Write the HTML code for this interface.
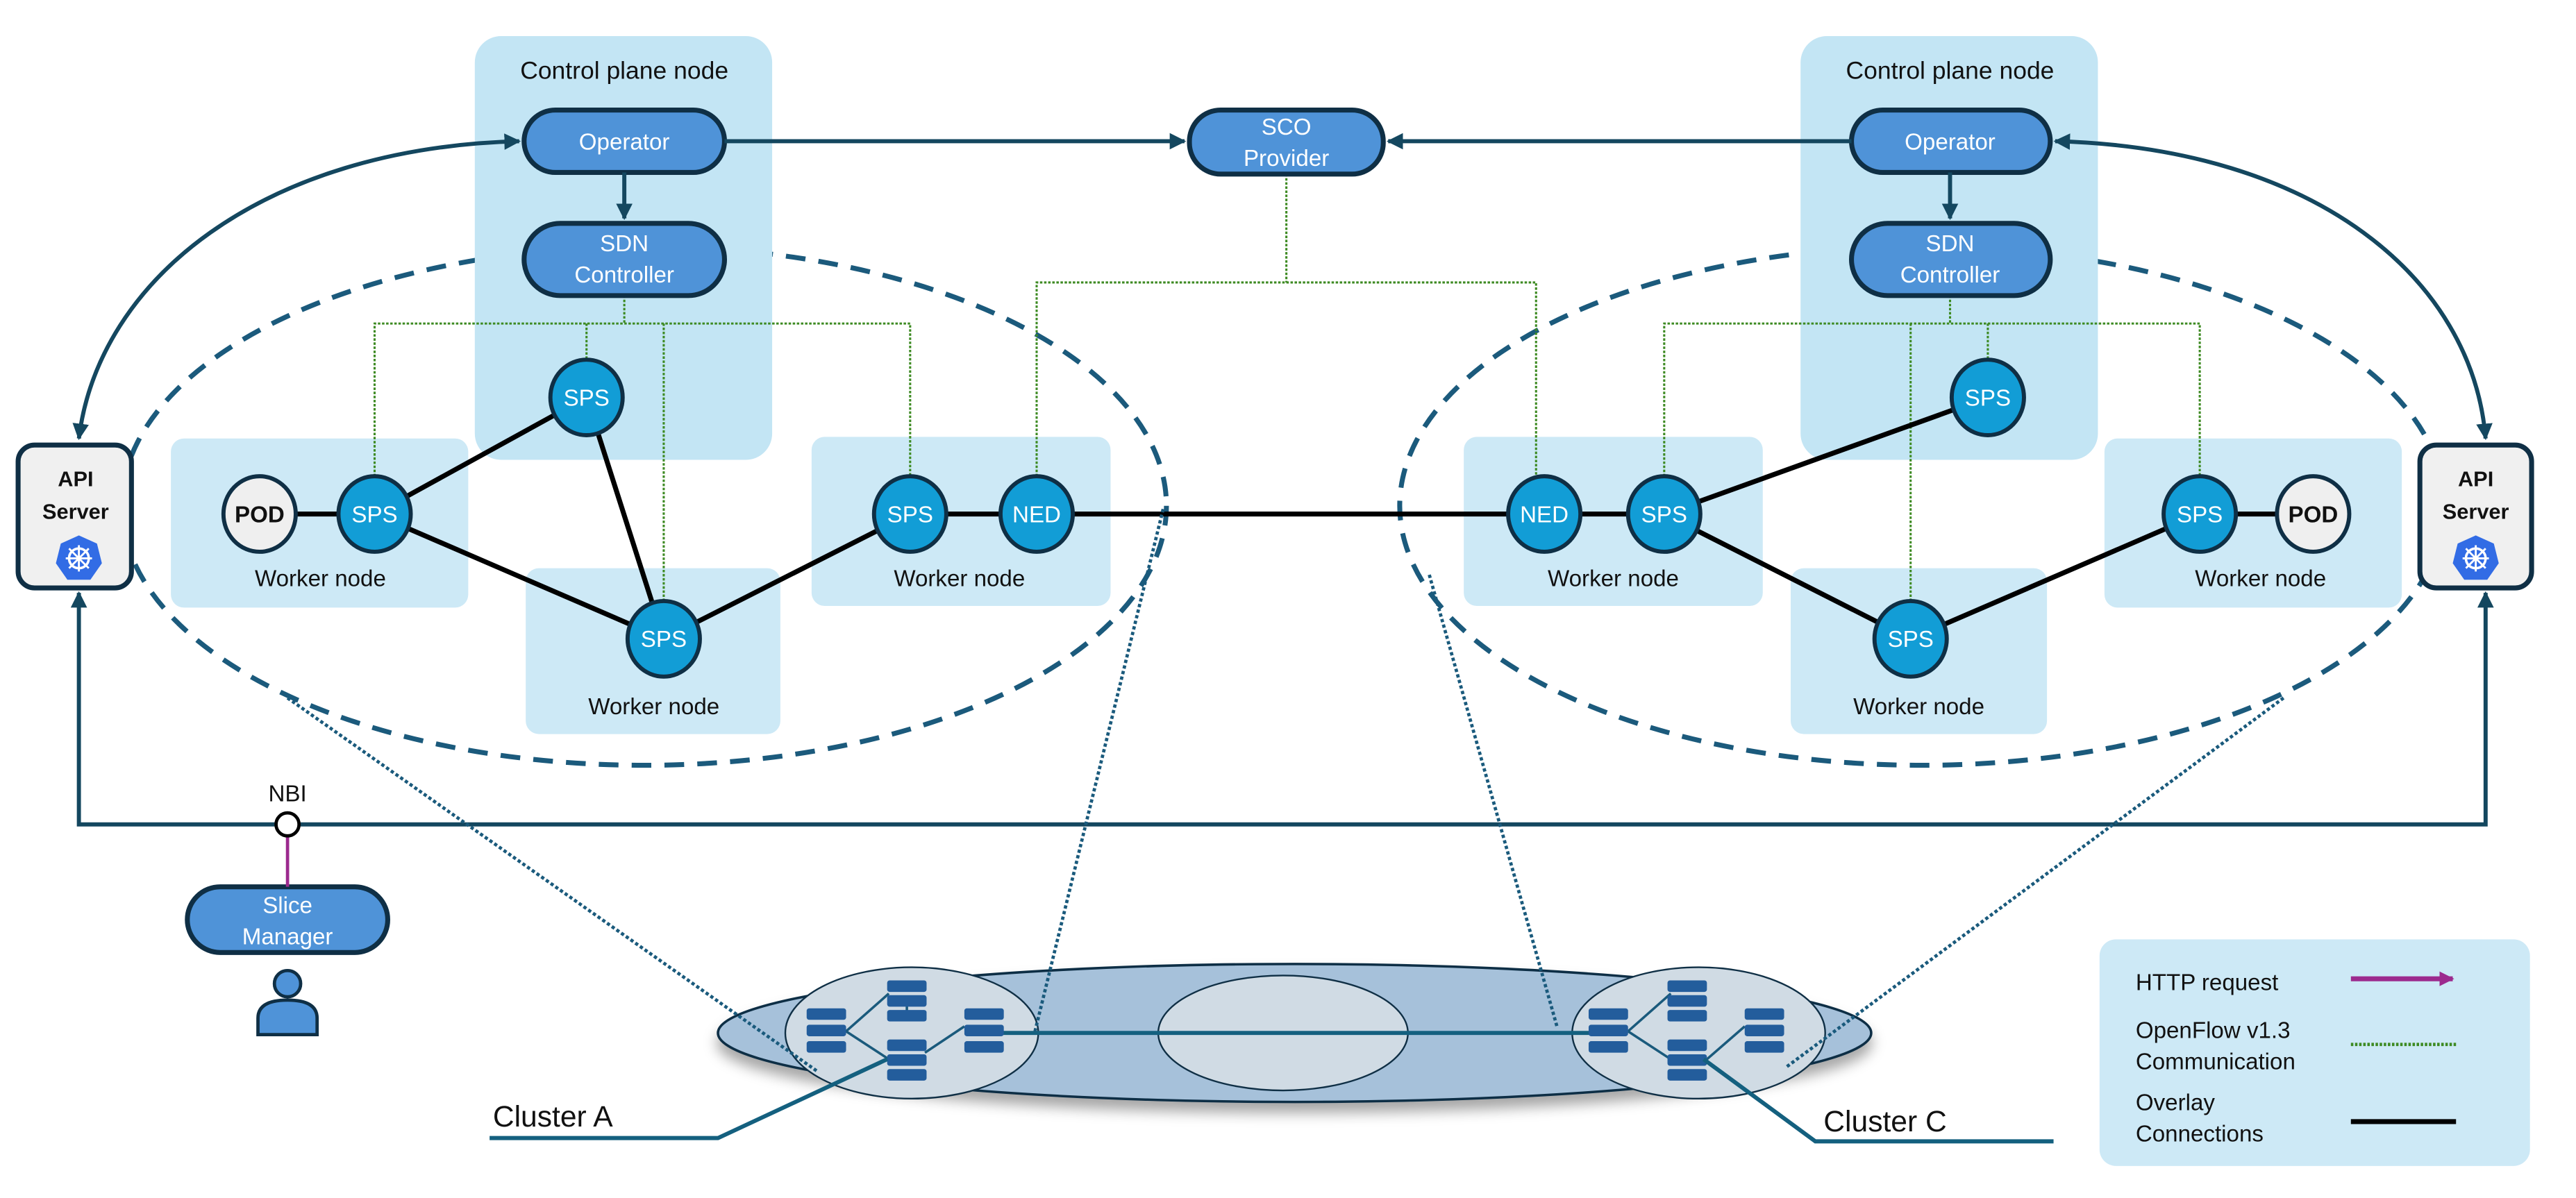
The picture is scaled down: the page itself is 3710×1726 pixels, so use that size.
<!DOCTYPE html>
<html><head><meta charset="utf-8"><style>
html,body{margin:0;padding:0;background:#fff;}
svg{display:block;}
text{font-family:"Liberation Sans",sans-serif;}
</style></head><body>
<svg width="3710" height="1726" viewBox="0 0 1568 729.5" xmlns="http://www.w3.org/2000/svg">
<defs>
<marker id="ah" viewBox="0 0 10 10" refX="9" refY="5" markerWidth="4" markerHeight="4" orient="auto-start-reverse"><path d="M0,0 L10,5 L0,10 z" fill="#14475f"/></marker>
<marker id="am" viewBox="0 0 10 10" refX="9" refY="5" markerWidth="3" markerHeight="3" orient="auto"><path d="M0,0 L10,5 L0,10 z" fill="#9c2a8e"/></marker>
<filter id="sh" x="-10%" y="-10%" width="120%" height="140%"><feDropShadow dx="0" dy="6" stdDeviation="4" flood-color="#000" flood-opacity="0.35"/></filter>
</defs>

<!-- dashed ellipses -->
<ellipse cx="392" cy="308" rx="318" ry="158" fill="none" stroke="#1b5a7c" stroke-width="3" stroke-dasharray="12 8"/>
<ellipse cx="1170" cy="308" rx="318" ry="158" fill="none" stroke="#1b5a7c" stroke-width="3" stroke-dasharray="12 8"/>

<!-- control plane boxes -->
<rect x="289" y="22" width="181" height="258" rx="16" fill="#c3e5f4"/>
<rect x="1096" y="22" width="181" height="258" rx="16" fill="#c3e5f4"/>
<text x="380" y="48" font-size="15" text-anchor="middle" fill="#111">Control plane node</text>
<text x="1187" y="48" font-size="15" text-anchor="middle" fill="#111">Control plane node</text>

<!-- worker nodes -->
<g fill="#cde9f6">
<rect x="104" y="267" width="181" height="103" rx="8"/>
<rect x="320" y="346" width="155" height="101" rx="8"/>
<rect x="494" y="266" width="182" height="103" rx="8"/>
<rect x="891" y="266" width="182" height="103" rx="8"/>
<rect x="1090" y="346" width="156" height="101" rx="8"/>
<rect x="1281" y="267" width="181" height="103" rx="8"/>
</g>
<g font-size="14" text-anchor="middle" fill="#111">
<text x="195" y="357">Worker node</text>
<text x="398" y="435">Worker node</text>
<text x="584" y="357">Worker node</text>
<text x="982" y="357">Worker node</text>
<text x="1168" y="435">Worker node</text>
<text x="1376" y="357">Worker node</text>
</g>

<!-- green dotted -->
<g fill="none" stroke="#3d8a22" stroke-width="1.3" stroke-dasharray="1.5 1">
<path d="M380,180 V197 M228,290 V197 H554 V290 M357,197 V219 M404,197 V366"/>
<path d="M783,106 V172 M631,290 V172 H935 V290"/>
<path d="M1187,180 V197 M1013,290 V197 H1339 V290 M1210,197 V219 M1163,197 V366"/>
</g>

<!-- black overlay lines -->
<g stroke="#000" stroke-width="3" fill="none">
<path d="M158,313 H228 M228,313 L357,242 M228,313 L404,389 M357,242 L404,389 M404,389 L554,313 M554,313 H631 M631,313 H940 M940,313 H1013 M1013,313 L1210,242 M1013,313 L1163,389 M1163,389 L1339,313 M1339,313 H1408"/>
</g>

<!-- circles -->
<g stroke="#0f2f45" stroke-width="2.5">
<ellipse cx="158" cy="313" rx="22" ry="23" fill="#efefef"/>
<ellipse cx="1408" cy="313" rx="22" ry="23" fill="#efefef"/>
<g fill="#129dd6">
<ellipse cx="228" cy="313" rx="22" ry="23"/>
<ellipse cx="357" cy="242" rx="22" ry="23"/>
<ellipse cx="404" cy="389" rx="22" ry="23"/>
<ellipse cx="554" cy="313" rx="22" ry="23"/>
<ellipse cx="631" cy="313" rx="22" ry="23"/>
<ellipse cx="940" cy="313" rx="22" ry="23"/>
<ellipse cx="1013" cy="313" rx="22" ry="23"/>
<ellipse cx="1210" cy="242" rx="22" ry="23"/>
<ellipse cx="1163" cy="389" rx="22" ry="23"/>
<ellipse cx="1339" cy="313" rx="22" ry="23"/>
</g></g>
<g font-size="14" text-anchor="middle" fill="#fff">
<text x="228" y="318">SPS</text><text x="357" y="247">SPS</text><text x="404" y="394">SPS</text>
<text x="554" y="318">SPS</text><text x="631" y="318">NED</text><text x="940" y="318">NED</text>
<text x="1013" y="318">SPS</text><text x="1210" y="247">SPS</text><text x="1163" y="394">SPS</text>
<text x="1339" y="318">SPS</text>
</g>
<g font-size="14" text-anchor="middle" fill="#111" font-weight="bold">
<text x="158" y="318">POD</text><text x="1408" y="318">POD</text>
</g>

<!-- pills -->
<g fill="#4f93d8" stroke="#0f2f45" stroke-width="3">
<rect x="319" y="67" width="122" height="38" rx="19"/>
<rect x="319" y="136" width="122" height="44" rx="22"/>
<rect x="1127" y="67" width="121" height="38" rx="19"/>
<rect x="1127" y="136" width="121" height="44" rx="22"/>
<rect x="724" y="67" width="118" height="39" rx="19"/>
<rect x="114" y="540" width="122" height="40" rx="20"/>
</g>
<g font-size="14" text-anchor="middle" fill="#fff">
<text x="380" y="91">Operator</text>
<text x="380" y="153">SDN</text><text x="380" y="172">Controller</text>
<text x="1187" y="91">Operator</text>
<text x="1187" y="153">SDN</text><text x="1187" y="172">Controller</text>
<text x="783" y="82">SCO</text><text x="783" y="101">Provider</text>
<text x="175" y="556">Slice</text><text x="175" y="575">Manager</text>
</g>

<!-- arrows -->
<g stroke="#14475f" stroke-width="2.5" fill="none">
<path d="M380,105 V133" marker-end="url(#ah)"/>
<path d="M1187,105 V133" marker-end="url(#ah)"/>
<path d="M441,86 H721" marker-end="url(#ah)"/>
<path d="M1127,86 H845" marker-end="url(#ah)"/>
<path d="M316,86 C160,90 60,170 48,267" marker-start="url(#ah)" marker-end="url(#ah)"/>
<path d="M1251,86 C1410,90 1505,170 1513,267" marker-start="url(#ah)" marker-end="url(#ah)"/>
<path d="M48,361 V502 H1513 V361" marker-start="url(#ah)" marker-end="url(#ah)"/>
</g>

<!-- API servers -->
<g stroke="#0f2f45" stroke-width="3" fill="#f0f0f0">
<rect x="11" y="271" width="69" height="87" rx="10"/>
<rect x="1473" y="271" width="68" height="87" rx="10"/>
</g>
<g font-size="13" font-weight="bold" text-anchor="middle" fill="#111">
<text x="46" y="296">API</text><text x="46" y="316">Server</text>
<text x="1507" y="296">API</text><text x="1507" y="316">Server</text>
</g>
<g>
<polygon points="48,326 59,331 62,343 55,353 41,353 34,343 37,331" fill="#326ce5"/>
<circle cx="48" cy="340" r="6" fill="none" stroke="#fff" stroke-width="1.5"/>
<path d="M48,332 V348 M40,340 H56 M42,334 L54,346 M54,334 L42,346" stroke="#fff" stroke-width="1.2"/>
<polygon points="1507,326 1518,331 1521,343 1514,353 1500,353 1493,343 1496,331" fill="#326ce5"/>
<circle cx="1507" cy="340" r="6" fill="none" stroke="#fff" stroke-width="1.5"/>
<path d="M1507,332 V348 M1499,340 H1515 M1501,334 L1513,346 M1513,334 L1501,346" stroke="#fff" stroke-width="1.2"/>
</g>

<!-- NBI -->
<path d="M175,509 V540" stroke="#9c2a8e" stroke-width="2"/>
<circle cx="175" cy="502" r="7" fill="#fff" stroke="#000" stroke-width="2"/>
<text x="175" y="488" font-size="14" text-anchor="middle" fill="#111">NBI</text>
<!-- person -->
<circle cx="175" cy="599" r="8" fill="#4f93d8" stroke="#0f2f45" stroke-width="2"/>
<path d="M157,630 V620 Q157,609 175,609 Q193,609 193,620 V630 Z" fill="#4f93d8" stroke="#0f2f45" stroke-width="2"/>

<!-- cluster -->
<g filter="url(#sh)">
<ellipse cx="788" cy="629" rx="351" ry="42" fill="#a6c1da" stroke="#0f2f45" stroke-width="1.5"/>
</g>
<ellipse cx="555" cy="629" rx="77" ry="40" fill="#d0dbe4" stroke="#0f2f45" stroke-width="1"/>
<ellipse cx="781" cy="629" rx="76" ry="35" fill="#d0dbe4" stroke="#0f2f45" stroke-width="1"/>
<ellipse cx="1034" cy="629" rx="77" ry="40" fill="#d0dbe4" stroke="#0f2f45" stroke-width="1"/>
<g stroke="#1a5a7c" stroke-width="1.5" fill="none">
<path d="M515,628 L541,605 M515,628 L541,645 M552,609 V620 M563,641 L587,625"/>
<path d="M991,628 L1017,605 M991,628 L1017,645 M1039,645 L1062,625"/>
</g>
<path d="M605,629 H968" stroke="#14607f" stroke-width="2.5"/>
<g fill="#235d9c">
<rect x="491" y="614" width="24" height="7" rx="1.5"/><rect x="491" y="624" width="24" height="7" rx="1.5"/><rect x="491" y="634" width="24" height="7" rx="1.5"/>
<rect x="540" y="597" width="24" height="7" rx="1.5"/><rect x="540" y="606" width="24" height="7" rx="1.5"/><rect x="540" y="615" width="24" height="7" rx="1.5"/>
<rect x="540" y="633" width="24" height="7" rx="1.5"/><rect x="540" y="642" width="24" height="7" rx="1.5"/><rect x="540" y="651" width="24" height="7" rx="1.5"/>
<rect x="587" y="614" width="24" height="7" rx="1.5"/><rect x="587" y="624" width="24" height="7" rx="1.5"/><rect x="587" y="634" width="24" height="7" rx="1.5"/>
<rect x="967" y="614" width="24" height="7" rx="1.5"/><rect x="967" y="624" width="24" height="7" rx="1.5"/><rect x="967" y="634" width="24" height="7" rx="1.5"/>
<rect x="1015" y="597" width="24" height="7" rx="1.5"/><rect x="1015" y="606" width="24" height="7" rx="1.5"/><rect x="1015" y="615" width="24" height="7" rx="1.5"/>
<rect x="1015" y="633" width="24" height="7" rx="1.5"/><rect x="1015" y="642" width="24" height="7" rx="1.5"/><rect x="1015" y="651" width="24" height="7" rx="1.5"/>
<rect x="1062" y="614" width="24" height="7" rx="1.5"/><rect x="1062" y="624" width="24" height="7" rx="1.5"/><rect x="1062" y="634" width="24" height="7" rx="1.5"/>
</g>

<!-- dotted projection lines -->
<g stroke="#1a5a7c" stroke-width="2" stroke-dasharray="2 1.5" fill="none">
<path d="M175,425 L497,652"/>
<path d="M708,310 L630,628"/>
<path d="M870,350 L948,626"/>
<path d="M1390,425 L1087,650"/>
</g>

<!-- cluster labels -->
<g stroke="#14607f" stroke-width="2.5" fill="none">
<path d="M298,693 H437 L540,645"/>
<path d="M1037,645 L1105,695 H1250"/>
</g>
<text x="300" y="686" font-size="18" fill="#111">Cluster A</text>
<text x="1110" y="689" font-size="18" fill="#111">Cluster C</text>

<!-- legend -->
<rect x="1278" y="572" width="262" height="138" rx="10" fill="#cde9f6"/>
<g font-size="14" fill="#111">
<text x="1300" y="603">HTTP request</text>
<text x="1300" y="632">OpenFlow v1.3</text>
<text x="1300" y="651">Communication</text>
<text x="1300" y="676">Overlay</text>
<text x="1300" y="695">Connections</text>
</g>
<path d="M1431,596 H1493" stroke="#9c2a8e" stroke-width="3" marker-end="url(#am)"/>
<path d="M1431,636 H1495" stroke="#3d8a22" stroke-width="2" stroke-dasharray="1.5 1"/>
<path d="M1431,683 H1495" stroke="#000" stroke-width="3"/>
</svg>
</body></html>
